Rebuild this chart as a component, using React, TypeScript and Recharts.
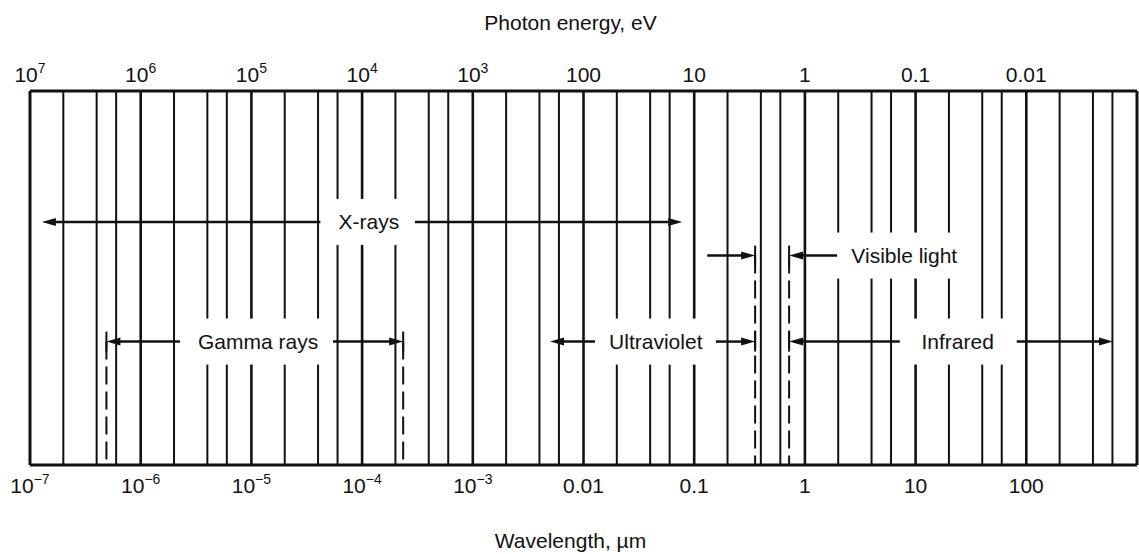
import React from "react";
import { ComposedChart, XAxis, YAxis, ReferenceLine, Scatter } from "recharts";

// Wavelength scale, µm. Vertical rules at 1, 2, 4, 6 in every decade.
const gridLines = [
  1e-7, 2e-7, 4e-7, 6e-7, 1e-6, 2e-6, 4e-6, 6e-6, 1e-5, 2e-5, 4e-5, 6e-5,
  1e-4, 2e-4, 4e-4, 6e-4, 1e-3, 2e-3, 4e-3, 6e-3, 0.01, 0.02, 0.04, 0.06,
  0.1, 0.2, 0.4, 0.6, 1, 2, 4, 6, 10, 20, 40, 60, 100, 200, 400, 600, 1000,
];
const decadeTicks = [1e-7, 1e-6, 1e-5, 1e-4, 1e-3, 0.01, 0.1, 1, 10, 100];
const wavelengthLabels = ["10^−7", "10^−6", "10^−5", "10^−4", "10^−3", "0.01", "0.1", "1", "10", "100"];
const energyLabels = ["10^7", "10^6", "10^5", "10^4", "10^3", "100", "10", "1", "0.1", "0.01"];

// Band captions: position on the wavelength scale and row height (0..100)
const bandNames = ["X-rays", "Visible light", "Gamma rays", "Ultraviolet", "Infrared"];
const bandLabelAt = [1.15e-4, 7.9, 1.15e-5, 0.045, 24];
const bandRow = [65, 56, 33, 33, 33];

// Arrows, tail -> head, in µm
const arrowTail = [4.2e-5, 3.0e-4, 0.131, 1.95, 2.26e-6, 5.46e-5, 0.0127, 0.157, 7.2, 82];
const arrowHead = [1.28e-7, 0.078, 0.355, 0.72, 4.9e-7, 2.35e-4, 4.98e-3, 0.355, 0.72, 607];
const arrowRow = [65, 65, 56, 56, 33, 33, 33, 33, 33, 33];

// Band edges drawn as dashed rules down to the axis
const edgeAt = [4.9e-7, 2.35e-4, 0.355, 0.72];
const edgeTop = [33, 33, 56, 56];

// Short end bars where an arrow stops at an edge
const barAt = [4.9e-7, 2.35e-4, 0.355, 0.72, 0.355, 0.72];
const barRow = [33, 33, 56, 56, 33, 33];

const FONT = '"Liberation Sans", Arial, Helvetica, sans-serif';
const INK = "#111";

const labelData = bandNames.map((name, i) => ({ x: bandLabelAt[i], y: bandRow[i], name }));
const barData = barAt.map((x, i) => ({ x, y: barRow[i] }));

let ctx: CanvasRenderingContext2D | null = null;
function textWidth(s: string, size: number) {
  if (!ctx) ctx = document.createElement("canvas").getContext("2d");
  if (!ctx) return s.length * size * 0.5;
  ctx.font = `${size}px ${FONT}`;
  return ctx.measureText(s).width;
}

// tick value -> index into the decade label lists
const decadeIndex = (v: number) => Math.round(Math.log10(v)) + 7;

function PowerLabel({ x, y, text }: { x: number; y: number; text: string }) {
  const [base, exp] = text.split("^");
  return (
    <text x={x} y={y} textAnchor="middle" fontFamily={FONT} fontSize={21} fill={INK}>
      <tspan>{base}</tspan>
      {exp && (
        <tspan dy={-9} fontSize={14}>
          {exp}
        </tspan>
      )}
    </text>
  );
}

function BottomTick(props: any) {
  const label = wavelengthLabels[decadeIndex(props.payload.value)] ?? "";
  return <PowerLabel x={props.x} y={props.y + 28} text={label} />;
}

function TopTick(props: any) {
  const label = energyLabels[decadeIndex(props.payload.value)] ?? "";
  return <PowerLabel x={props.x} y={props.y - 9} text={label} />;
}

function BandLabel(props: any) {
  const { cx, cy, payload } = props;
  const w = textWidth(payload.name, 21) + 32;
  return (
    <g>
      <rect x={cx - w / 2} y={cy - 23} width={w} height={46} fill="#fff" />
      <text x={cx} y={cy + 7.5} textAnchor="middle" fontFamily={FONT} fontSize={21} fill={INK}>
        {payload.name}
      </text>
    </g>
  );
}

function EndBar(props: any) {
  const { cx, cy } = props;
  return <line x1={cx} y1={cy - 10} x2={cx} y2={cy + 10} stroke={INK} strokeWidth={2} />;
}

function Arrow(props: any) {
  const { x1, y1, x2, y2 } = props;
  const dir = Math.sign(x2 - x1) || 1;
  const head = 14;
  const half = 4;
  const bx = x2 - dir * head;
  return (
    <g>
      <line x1={x1} y1={y1} x2={bx + dir} y2={y2} stroke={INK} strokeWidth={2.5} />
      <polygon points={`${x2},${y2} ${bx},${y2 - half} ${bx},${y2 + half}`} fill={INK} />
    </g>
  );
}

function AxisTitle({ vb, text, dy }: { vb: any; text: string; dy: number }) {
  if (!vb) return null;
  return (
    <text
      x={vb.x + vb.width / 2 - 13}
      y={vb.y + dy}
      textAnchor="middle"
      fontFamily={FONT}
      fontSize={21}
      fill={INK}
    >
      {text}
    </text>
  );
}

export default function App() {
  return (
    <div style={{ position: "absolute", left: 0, top: 0, width: 1139, height: 554, background: "#fff" }}>
      <ComposedChart width={1139} height={554} margin={{ top: 0, right: 2, bottom: 0, left: 30 }}>
        <XAxis
          xAxisId="wl"
          dataKey="x"
          type="number"
          scale="log"
          domain={[1e-7, 1000]}
          allowDataOverflow
          orientation="bottom"
          height={89}
          ticks={decadeTicks}
          interval={0}
          tickSize={0}
          tickMargin={0}
          tickLine={false}
          axisLine={{ stroke: INK, strokeWidth: 3 }}
          tick={<BottomTick />}
          label={{ content: (p: any) => <AxisTitle vb={p.viewBox} text="Wavelength, µm" dy={83} /> }}
        />
        {/* photon energy axis: same positions, labels read as E = hc/λ */}
        <XAxis
          xAxisId="ev"
          dataKey="x"
          type="number"
          scale="log"
          domain={[1e-7, 1000]}
          allowDataOverflow
          orientation="top"
          height={91}
          ticks={decadeTicks}
          interval={0}
          tickSize={0}
          tickMargin={0}
          tickLine={false}
          axisLine={{ stroke: INK, strokeWidth: 3 }}
          tick={<TopTick />}
          label={{ content: (p: any) => <AxisTitle vb={p.viewBox} text="Photon energy, eV" dy={30} /> }}
        />
        <YAxis yAxisId="y" dataKey="y" type="number" domain={[0, 100]} allowDataOverflow hide />

        {gridLines.map((v) => {
          const edge = v === 1e-7 || v === 1000;
          const decade = decadeTicks.includes(v);
          return (
            <ReferenceLine
              key={`g${v}`}
              xAxisId="wl"
              yAxisId="y"
              x={v}
              ifOverflow="visible"
              stroke={INK}
              strokeWidth={edge ? 3 : decade ? 2.6 : 2}
              zIndex={100}
            />
          );
        })}

        {edgeAt.map((v, i) => (
          <ReferenceLine
            key={`e${i}`}
            xAxisId="wl"
            yAxisId="y"
            segment={[
              { x: v, y: edgeTop[i] },
              { x: v, y: 0 },
            ]}
            ifOverflow="visible"
            stroke={INK}
            strokeWidth={2}
            strokeDasharray="18 7"
            zIndex={100}
          />
        ))}

        <Scatter
          xAxisId="wl"
          yAxisId="y"
          data={labelData}
          shape={<BandLabel />}
          isAnimationActive={false}
          zIndex={700}
        />

        {arrowTail.map((t, i) => (
          <ReferenceLine
            key={`a${i}`}
            xAxisId="wl"
            yAxisId="y"
            segment={[
              { x: t, y: arrowRow[i] },
              { x: arrowHead[i], y: arrowRow[i] },
            ]}
            ifOverflow="visible"
            shape={<Arrow />}
            zIndex={800}
          />
        ))}

        <Scatter
          xAxisId="ev"
          yAxisId="y"
          data={barData}
          shape={<EndBar />}
          isAnimationActive={false}
          zIndex={800}
        />
      </ComposedChart>
    </div>
  );
}
